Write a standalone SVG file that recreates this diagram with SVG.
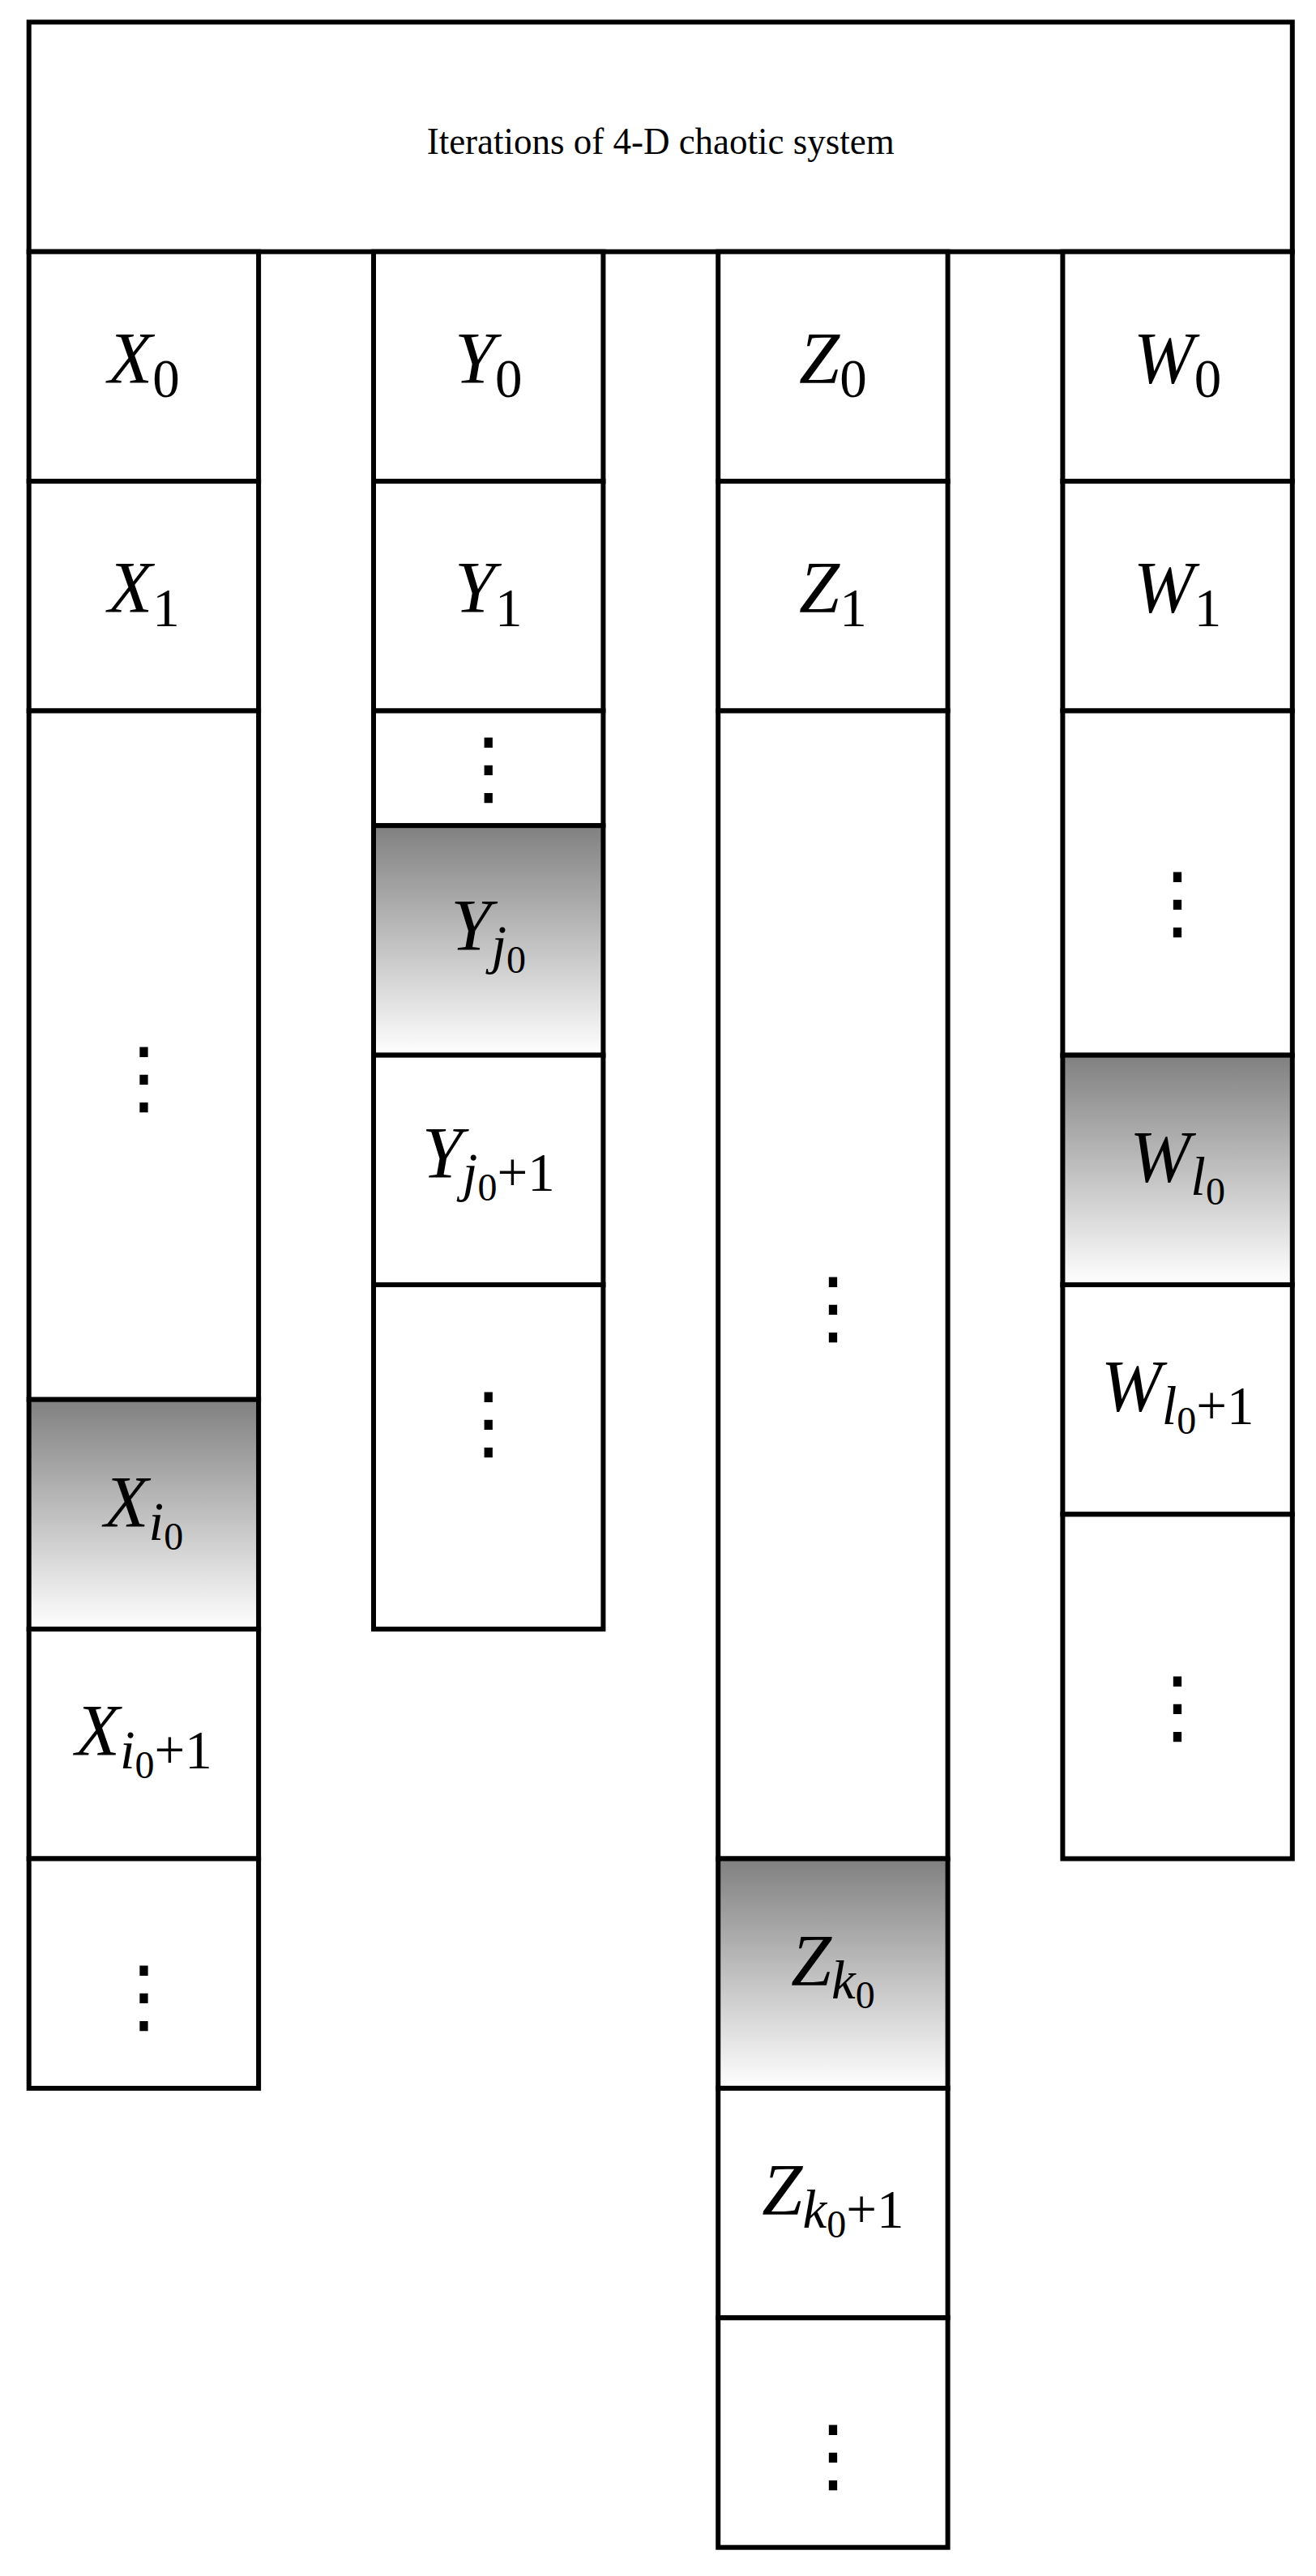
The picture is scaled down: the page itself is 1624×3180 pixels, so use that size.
<svg xmlns="http://www.w3.org/2000/svg" width="1624" height="3180" viewBox="0 0 1624 3180">
<style>
.c{fill:#fff;stroke:#000;stroke-width:6}
.g{fill:url(#shade);stroke:#000;stroke-width:6}
.t{font-family:"Liberation Serif",serif;fill:#000;text-anchor:middle}
.lbl{font-family:"Liberation Serif",serif;fill:#000;text-anchor:middle;font-size:90px}
.it{font-style:italic}
.s1{font-size:67px}
.s2{font-size:48px}
.dots{font-family:"DejaVu Sans",sans-serif;font-size:100px;fill:#000;text-anchor:middle}
</style>
<defs>
<linearGradient id="shade" x1="0" y1="0" x2="0" y2="1">
<stop offset="0" stop-color="#808080"/>
<stop offset="1" stop-color="#ffffff"/>
</linearGradient>
</defs>
<rect width="1624" height="3180" fill="#fff"/>
<g id="title">
<rect class="c" x="35.7" y="27.3" width="1559.1" height="283.4"/>
<text class="t" x="815.2" y="190" font-size="46" textLength="577" lengthAdjust="spacingAndGlyphs">Iterations of 4-D chaotic system</text>
</g>
<g id="colX">
<g id="X0"><rect class="c" x="35.7" y="310.7" width="283.4" height="283.4"/><text class="lbl" x="177.4" y="472.7"><tspan class="it">X</tspan><tspan class="s1" dy="17">0</tspan></text></g>
<g id="X1"><rect class="c" x="35.7" y="594.1" width="283.4" height="283.4"/><text class="lbl" x="177.4" y="756.1"><tspan class="it">X</tspan><tspan class="s1" dy="17">1</tspan></text></g>
<g id="Xdots1"><rect class="c" x="35.7" y="877.5" width="283.4" height="850.2"/><text class="dots" x="177.4" y="1364">⋮</text></g>
<g id="Xi0"><rect class="g" x="35.7" y="1727.7" width="283.4" height="283.4"/><text class="lbl" x="177.4" y="1884.5"><tspan class="it">X</tspan><tspan class="s1 it" dy="16">i</tspan><tspan class="s2" dy="12">0</tspan></text></g>
<g id="Xi1"><rect class="c" x="35.7" y="2011.1" width="283.4" height="283.4"/><text class="lbl" x="177.4" y="2166.8"><tspan class="it">X</tspan><tspan class="s1 it" dy="16">i</tspan><tspan class="s2" dy="12">0</tspan><tspan class="s1" dy="-12">+1</tspan></text></g>
<g id="Xdots2"><rect class="c" x="35.7" y="2294.5" width="283.4" height="283.4"/><text class="dots" x="177.4" y="2497.7">⋮</text></g>
</g>
<g id="colY">
<g id="Y0"><rect class="c" x="461" y="310.7" width="283.4" height="283.4"/><text class="lbl" x="602.7" y="472.7"><tspan class="it">Y</tspan><tspan class="s1" dy="17">0</tspan></text></g>
<g id="Y1"><rect class="c" x="461" y="594.1" width="283.4" height="283.4"/><text class="lbl" x="602.7" y="756.1"><tspan class="it">Y</tspan><tspan class="s1" dy="17">1</tspan></text></g>
<g id="Ydots1"><rect class="c" x="461" y="877.5" width="283.4" height="141.7"/><text class="dots" x="602.7" y="981.7">⋮</text></g>
<g id="Yj0"><rect class="g" x="461" y="1019.2" width="283.4" height="283.4"/><text class="lbl" x="602.7" y="1173"><tspan class="it">Y</tspan><tspan class="s1 it" dy="16">j</tspan><tspan class="s2" dy="12">0</tspan></text></g>
<g id="Yj1"><rect class="c" x="461" y="1302.6" width="283.4" height="283.4"/><text class="lbl" x="602.7" y="1453.5"><tspan class="it">Y</tspan><tspan class="s1 it" dy="16">j</tspan><tspan class="s2" dy="12">0</tspan><tspan class="s1" dy="-12">+1</tspan></text></g>
<g id="Ydots2"><rect class="c" x="461" y="1586" width="283.4" height="425.1"/><text class="dots" x="602.7" y="1789.7">⋮</text></g>
</g>
<g id="colZ">
<g id="Z0"><rect class="c" x="886.2" y="310.7" width="283.4" height="283.4"/><text class="lbl" x="1027.9" y="472.7"><tspan class="it">Z</tspan><tspan class="s1" dy="17">0</tspan></text></g>
<g id="Z1"><rect class="c" x="886.2" y="594.1" width="283.4" height="283.4"/><text class="lbl" x="1027.9" y="756.1"><tspan class="it">Z</tspan><tspan class="s1" dy="17">1</tspan></text></g>
<g id="Zdots1"><rect class="c" x="886.2" y="877.5" width="283.4" height="1417"/><text class="dots" x="1027.9" y="1648">⋮</text></g>
<g id="Zk0"><rect class="g" x="886.2" y="2294.5" width="283.4" height="283.4"/><text class="lbl" x="1027.9" y="2451.2"><tspan class="it">Z</tspan><tspan class="s1 it" dy="16">k</tspan><tspan class="s2" dy="12">0</tspan></text></g>
<g id="Zk1"><rect class="c" x="886.2" y="2577.9" width="283.4" height="283.4"/><text class="lbl" x="1027.9" y="2733.6"><tspan class="it">Z</tspan><tspan class="s1 it" dy="16">k</tspan><tspan class="s2" dy="12">0</tspan><tspan class="s1" dy="-12">+1</tspan></text></g>
<g id="Zdots2"><rect class="c" x="886.2" y="2861.3" width="283.4" height="283.4"/><text class="dots" x="1027.9" y="3064.7">⋮</text></g>
</g>
<g id="colW">
<g id="W0"><rect class="c" x="1311.4" y="310.7" width="283.4" height="283.4"/><text class="lbl" x="1453.1" y="472.7"><tspan class="it">W</tspan><tspan class="s1" dy="17">0</tspan></text></g>
<g id="W1"><rect class="c" x="1311.4" y="594.1" width="283.4" height="283.4"/><text class="lbl" x="1453.1" y="756.1"><tspan class="it">W</tspan><tspan class="s1" dy="17">1</tspan></text></g>
<g id="Wdots1"><rect class="c" x="1311.4" y="877.5" width="283.4" height="425.1"/><text class="dots" x="1453.1" y="1147.5">⋮</text></g>
<g id="Wl0"><rect class="g" x="1311.4" y="1302.6" width="283.4" height="283.4"/><text class="lbl" x="1453.1" y="1459"><tspan class="it">W</tspan><tspan class="s1 it" dy="16">l</tspan><tspan class="s2" dy="12">0</tspan></text></g>
<g id="Wl1"><rect class="c" x="1311.4" y="1586" width="283.4" height="283.4"/><text class="lbl" x="1453.1" y="1742.4"><tspan class="it">W</tspan><tspan class="s1 it" dy="16">l</tspan><tspan class="s2" dy="12">0</tspan><tspan class="s1" dy="-12">+1</tspan></text></g>
<g id="Wdots2"><rect class="c" x="1311.4" y="1869.4" width="283.4" height="425.1"/><text class="dots" x="1453.1" y="2141">⋮</text></g>
</g>
</svg>
